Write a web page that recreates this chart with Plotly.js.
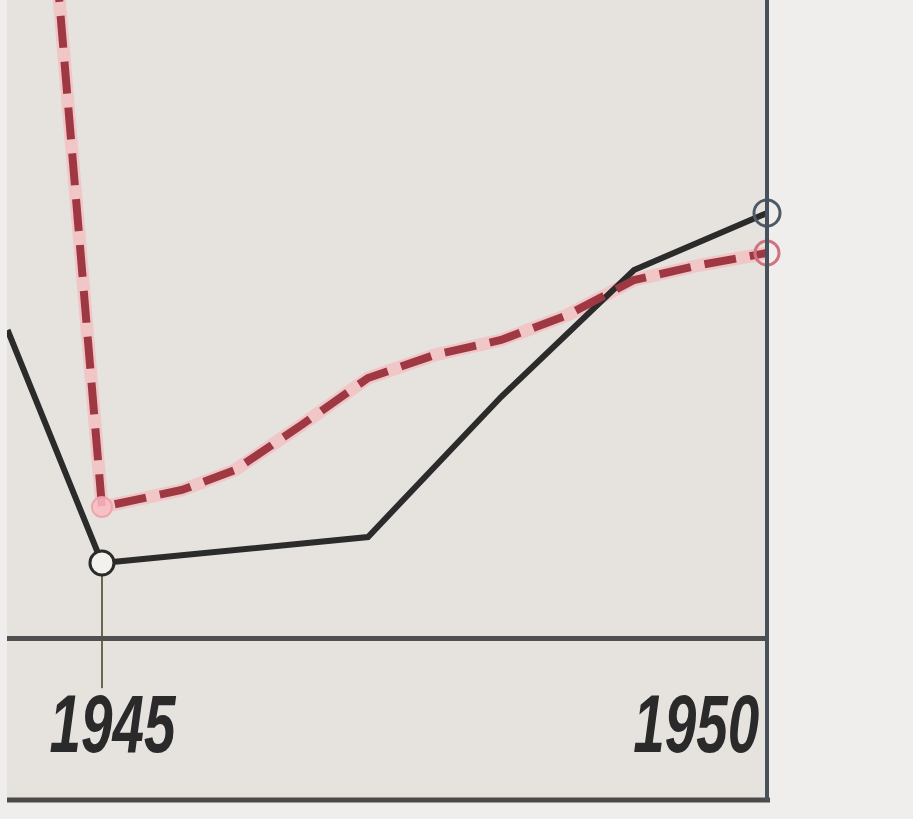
<!DOCTYPE html>
<html>
<head>
<meta charset="utf-8">
<script src="https://cdn.plot.ly/plotly-3.0.1.min.js"></script>
<style>html,body{margin:0;padding:0;background:#efeeec;}#chart{width:913px;height:819px;}</style>
</head>
<body>
<div id="chart"></div>
<script>
// Series (arbitrary vertical index units)
const yearsBlack = [1944.29, 1945, 1947, 1948, 1949, 1950];
const valuesBlack = [61.2, 14.6, 19.8, 47.8, 73.2, 84.6];
const yearsRed = [1944.66, 1945, 1945.6, 1946, 1946.5, 1947, 1947.5, 1948, 1948.5, 1949, 1949.5, 1950];
const valuesRed = [133.2, 25.8, 29.2, 33.2, 42.2, 51.6, 56.2, 59.2, 64.2, 71.2, 74.2, 76.6];
const tickYears = [1945, 1950];
const tickLabels = ['1945', '1950'];

const iB45 = yearsBlack.indexOf(1945), iB50 = yearsBlack.indexOf(1950);
const iR45 = yearsRed.indexOf(1945), iR50 = yearsRed.indexOf(1950);

const traces = [
  {x: yearsRed, y: valuesRed, mode: 'lines', line: {color: 'rgba(247,178,184,0.6)', width: 13}, cliponaxis: false, hoverinfo: 'skip'},
  {x: yearsBlack, y: valuesBlack, mode: 'lines', line: {color: '#2b2b2b', width: 6}, cliponaxis: false, hoverinfo: 'skip'},
  {x: yearsRed, y: valuesRed, mode: 'lines', line: {color: '#9e3944', width: 8, dash: '32px,14px'}, cliponaxis: false, hoverinfo: 'skip'},
  {x: [yearsBlack[iB45]], y: [valuesBlack[iB45]], mode: 'markers', cliponaxis: false, hoverinfo: 'skip',
   marker: {size: 24, color: '#f2f1ee', line: {color: '#2b2b2b', width: 3}}},
  {x: [yearsRed[iR45]], y: [valuesRed[iR45]], mode: 'markers', cliponaxis: false, hoverinfo: 'skip',
   marker: {size: 20, color: 'rgba(248,190,195,0.85)', line: {color: 'rgba(240,160,168,0.9)', width: 2}}},
  {x: [yearsRed[iR50]], y: [valuesRed[iR50]], mode: 'markers', cliponaxis: false, hoverinfo: 'skip',
   marker: {size: 24, color: 'rgba(0,0,0,0)', line: {color: '#d07380', width: 3}}},
  {x: [yearsBlack[iB50]], y: [valuesBlack[iB50]], mode: 'markers', cliponaxis: false, hoverinfo: 'skip',
   marker: {size: 26, color: 'rgba(0,0,0,0)', line: {color: '#4d5a66', width: 3}}}
];

const labelShift = [11, -71];
const labelWidth = 126;
const annotations = tickYears.map((yr, i) => ({
  x: yr, xref: 'x', y: -0.137, yref: 'paper',
  text: tickLabels[i], showarrow: false,
  xanchor: 'center', xshift: labelShift[i], yanchor: 'middle',
  font: {family: 'Liberation Sans, Arial, sans-serif', size: 82, color: '#2a2a2a', style: 'italic', weight: 'bold'}
}));

const layout = {
  width: 913, height: 819,
  margin: {l: 7, r: 146, t: 0, b: 183, pad: 0},
  paper_bgcolor: '#efeeec',
  plot_bgcolor: 'rgba(0,0,0,0)',
  showlegend: false,
  xaxis: {range: [1944.286, 1950], showgrid: false, zeroline: false, showticklabels: false, ticks: '',
          showline: true, linecolor: '#4f4f4f', linewidth: 5, fixedrange: true},
  yaxis: {range: [0, 127.2], showgrid: false, zeroline: false, showticklabels: false, ticks: '', showline: false, fixedrange: true},
  shapes: [
    {type: 'rect', layer: 'below', xref: 'paper', yref: 'paper', x0: 0, x1: 1, y0: -0.258, y1: 1.05,
     fillcolor: '#e6e3df', line: {width: 0}},
    {type: 'line', layer: 'below', xref: 'x', yref: 'paper', x0: tickYears[0], x1: tickYears[0], y0: -0.082, y1: 0.1,
     line: {color: '#66664f', width: 2}},
    {type: 'line', layer: 'above', xref: 'paper', yref: 'paper', x0: 0, x1: 1.004, y0: -0.258, y1: -0.258,
     line: {color: '#4a4a4a', width: 5}},
    {type: 'line', layer: 'above', xref: 'paper', yref: 'paper', x0: 1, x1: 1, y0: -0.26, y1: 1.05,
     line: {color: '#46515b', width: 4}}
  ],
  annotations: annotations
};

const gd = document.getElementById('chart');
Plotly.newPlot(gd, traces, layout, {staticPlot: true, displayModeBar: false}).then(() => {
  // condense the hand-lettered year labels horizontally, keeping their centres
  gd.querySelectorAll('.annotation-text').forEach(t => {
    const b1 = t.getBBox();
    const c1 = b1.x + b1.width / 2;
    t.setAttribute('textLength', labelWidth);
    t.setAttribute('lengthAdjust', 'spacingAndGlyphs');
    const b2 = t.getBBox();
    const c2 = b2.x + b2.width / 2;
    const prev = t.getAttribute('transform') || '';
    t.setAttribute('transform', 'translate(' + (c1 - c2) + ',0) ' + prev);
  });
});
</script>
</body>
</html>
